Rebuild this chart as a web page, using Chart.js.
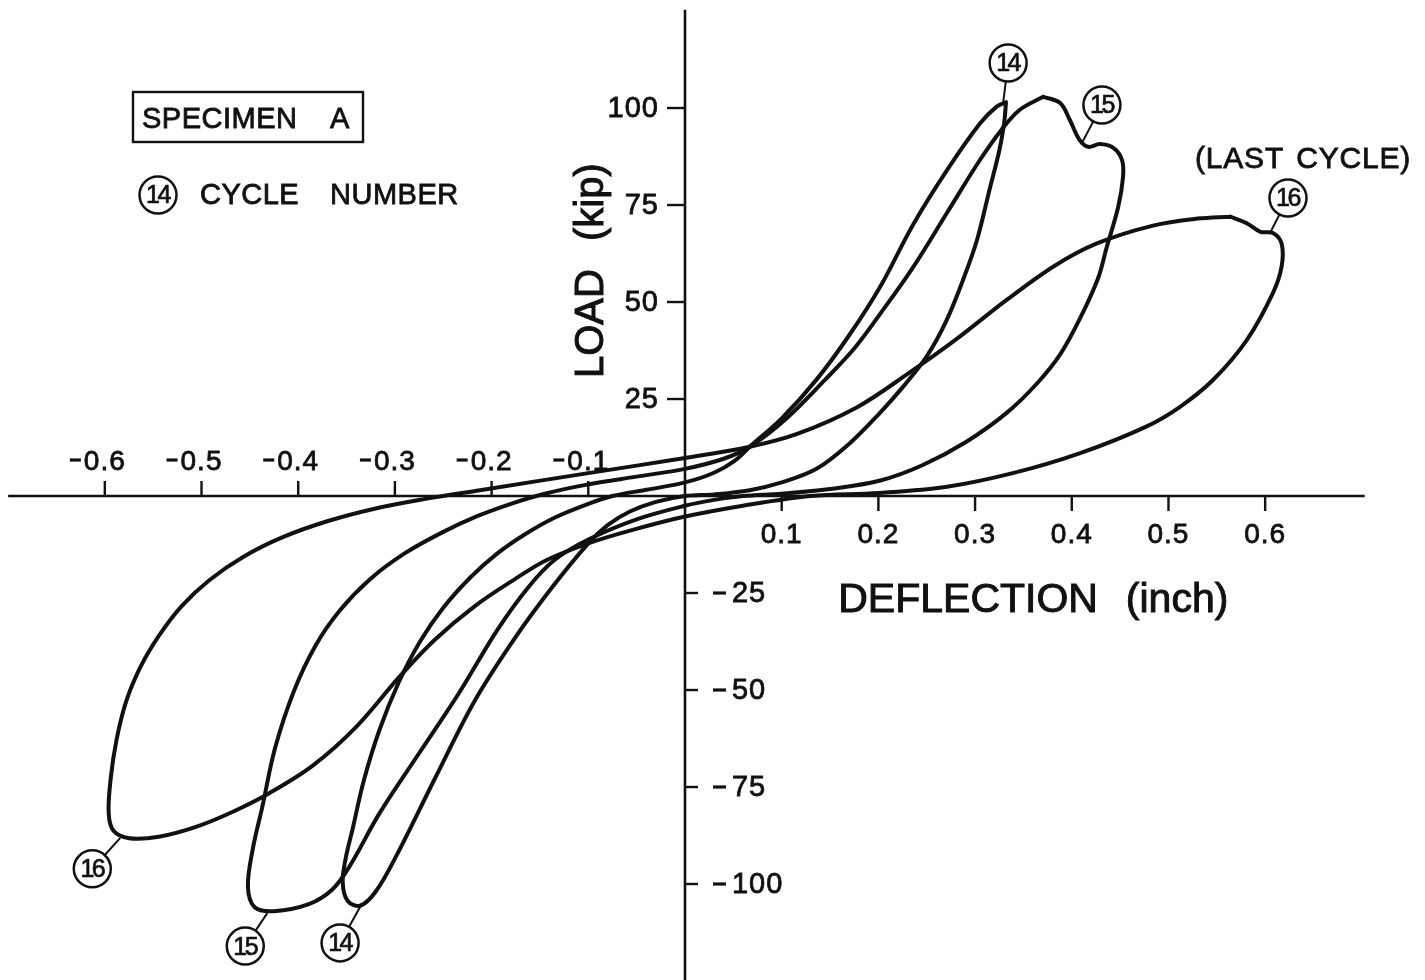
<!DOCTYPE html>
<html>
<head>
<meta charset="utf-8">
<script src="https://cdn.jsdelivr.net/npm/chart.js@4.4.1/dist/chart.umd.min.js"></script>
<style>
  html, body { margin: 0; padding: 0; background: #ffffff; }
  #wrap { width: 1425px; height: 980px; position: relative; }
  canvas { display: block; }
</style>
</head>
<body>
<div id="wrap"><canvas id="chart" width="1425" height="980"></canvas></div>
<script>
// Load–deflection hysteresis loops, specimen A, cycles 14–16.
// Each loop: [deflection (inch), load (kip)], traced from the positive peak around the loop.
const cycle14 = [
  [0.332, 101.5], [0.330, 96], [0.325, 89], [0.315, 79], [0.302, 66], [0.288, 56],
  [0.270, 45], [0.250, 36], [0.225, 28], [0.200, 21], [0.170, 13.5], [0.136, 7],
  [0.100, 3.5], [0.067, 1.5], [0.030, 0.4], [0.000, 0],
  [-0.030, -1.5], [-0.057, -4], [-0.080, -7.5], [-0.100, -12.2], [-0.137, -23.4],
  [-0.177, -37], [-0.218, -53], [-0.259, -73], [-0.298, -92.5], [-0.320, -102],
  [-0.336, -105.6], [-0.349, -104.3], [-0.354, -99.5],
  [-0.351, -93.5], [-0.344, -86.1], [-0.332, -73.2], [-0.316, -60.3], [-0.296, -48],
  [-0.274, -37.5], [-0.250, -28.8], [-0.222, -21], [-0.194, -14.8], [-0.165, -9.8],
  [-0.135, -5.6], [-0.102, -2.2], [-0.075, 0], [-0.040, 1.6], [0.000, 3.5], [0.030, 6],
  [0.052, 9.2], [0.067, 12.7],
  [0.100, 20], [0.136, 30], [0.170, 41.5], [0.202, 54], [0.236, 70], [0.271, 84],
  [0.305, 96], [0.322, 100.3], [0.332, 101.5]
];

const cycle15 = [
  [0.3705, 102.9], [0.388, 101.3], [0.398, 96.9], [0.408, 91.8], [0.417, 90], [0.429, 90.7],
  [0.443, 89.7], [0.452, 86.6], [0.453, 82.2], [0.448, 74.5], [0.436, 64], [0.427, 56],
  [0.408, 45.5], [0.388, 36.5], [0.364, 29], [0.333, 21.5], [0.291, 14], [0.246, 8],
  [0.202, 4], [0.150, 1.8], [0.100, 0.6], [0.060, 0], [0.030, -1], [0.000, -2.5],
  [-0.050, -6], [-0.100, -11.2], [-0.135, -16.5], [-0.162, -23.5], [-0.194, -34.5],
  [-0.234, -50.9], [-0.275, -66.3], [-0.316, -81.8], [-0.347, -95.5], [-0.365, -101.5],
  [-0.389, -105.2], [-0.425, -107], [-0.445, -106], [-0.452, -100.7],
  [-0.447, -91], [-0.437, -80], [-0.424, -65], [-0.404, -50], [-0.382, -38.5],
  [-0.357, -29.5], [-0.326, -21.5], [-0.290, -14.8], [-0.252, -9.5], [-0.215, -5.2],
  [-0.180, -2], [-0.145, 0.6], [-0.100, 3], [-0.050, 5], [0.000, 7], [0.040, 9.6],
  [0.067, 12.7],
  [0.105, 20], [0.145, 30], [0.175, 38], [0.202, 47], [0.236, 59], [0.271, 73],
  [0.305, 86.6], [0.327, 94.3], [0.346, 99.5], [0.3705, 102.9]
];

const cycle16 = [
  [0.564, 72], [0.581, 70.3], [0.595, 68.1], [0.608, 67.8], [0.617, 65.1], [0.617, 59.1],
  [0.608, 52.3], [0.581, 40.2], [0.546, 29.9], [0.512, 23], [0.477, 17.9], [0.408, 11],
  [0.339, 5.9], [0.271, 2.4], [0.200, 0.8], [0.130, 0], [0.060, -2.5], [0.000, -5.3],
  [-0.055, -8.8], [-0.100, -12.2], [-0.143, -16.5], [-0.177, -21.6], [-0.218, -28.5],
  [-0.259, -37.1], [-0.295, -46.5], [-0.340, -59.5], [-0.385, -69.5], [-0.430, -76.6],
  [-0.467, -81.3], [-0.505, -85.2], [-0.544, -87.8], [-0.575, -88.2], [-0.591, -86.3],
  [-0.596, -81.8], [-0.594, -73], [-0.588, -63], [-0.578, -53], [-0.563, -44],
  [-0.544, -36], [-0.521, -28.5], [-0.492, -21.7], [-0.457, -15.7], [-0.416, -10.6],
  [-0.370, -6.5], [-0.320, -3.2], [-0.270, -0.8], [-0.212, 1.5], [-0.100, 5.9],
  [0.000, 9.8], [0.067, 12.7],
  [0.116, 16], [0.178, 22.9], [0.231, 31.6], [0.280, 40.3], [0.333, 50.6], [0.382, 59.3],
  [0.426, 65.1], [0.484, 69.7], [0.530, 71.5], [0.564, 72]
];

// Axis ticks and labels
const xTicks = [-0.6, -0.5, -0.4, -0.3, -0.2, -0.1, 0.1, 0.2, 0.3, 0.4, 0.5, 0.6];
const xTickLabels = ['-0.6', '-0.5', '-0.4', '-0.3', '-0.2', '-0.1', '0.1', '0.2', '0.3', '0.4', '0.5', '0.6'];
const yTicks = [-100, -75, -50, -25, 25, 50, 75, 100];
const yTickLabels = ['-100', '-75', '-50', '-25', '25', '50', '75', '100'];

// Cycle number callouts: which cycle, and the point on its loop the leader touches
const cycleNames = ['14', '15', '16', '16', '15', '14'];
const calloutPoints = [
  [0.329, 101.3], [0.4105, 91], [0.605, 67.8],
  [-0.584, -88.1], [-0.432, -107.5], [-0.336, -105.9]
];

const INK = '#111111';
const FONT = '"Liberation Sans", Arial, Helvetica, sans-serif';

// filled text with a thin outline, for the heavy printed look
function inkText(ctx, text, x, y, weight) {
  ctx.fillText(text, x, y);
  ctx.lineWidth = weight || 0.8;
  ctx.strokeText(text, x, y);
}

// a short heavy minus sign drawn as a bar
function minusBar(ctx, x, y, w) {
  ctx.fillRect(x, y - 1.6, w, 3.2);
}

function circledNumber(ctx, cx, cy, text) {
  ctx.save();
  ctx.lineWidth = 2.5;
  ctx.beginPath();
  ctx.arc(cx, cy, 18.5, 0, Math.PI * 2);
  ctx.fillStyle = '#ffffff';
  ctx.fill();
  ctx.strokeStyle = INK;
  ctx.stroke();
  ctx.fillStyle = INK;
  ctx.font = '25px ' + FONT;
  ctx.letterSpacing = '-2.5px';
  ctx.textAlign = 'center';
  ctx.textBaseline = 'middle';
  inkText(ctx, text, cx - 0.5, cy + 1.5, 0.7);
  ctx.restore();
}

const decorPlugin = {
  id: 'decor',
  afterDatasetsDraw(chart) {
    const ctx = chart.ctx;
    const xs = chart.scales.x, ys = chart.scales.y;
    const X = v => xs.getPixelForValue(v);
    const Y = v => ys.getPixelForValue(v);
    const x0 = X(0), y0 = Y(0);

    ctx.save();
    ctx.strokeStyle = INK;
    ctx.fillStyle = INK;
    ctx.lineCap = 'butt';

    // axes through the origin
    ctx.lineWidth = 2.6;
    ctx.beginPath();
    ctx.moveTo(X(-0.700), y0);
    ctx.lineTo(X(0.703), y0);
    ctx.moveTo(x0, Y(125.3));
    ctx.lineTo(x0, Y(-125));
    ctx.stroke();

    // x ticks: up on the negative side, down on the positive side
    ctx.font = '28px ' + FONT;
    ctx.letterSpacing = '1px';
    ctx.textBaseline = 'alphabetic';
    xTicks.forEach((v, i) => {
      const px = X(v);
      ctx.lineWidth = 2.4;
      ctx.beginPath();
      if (v < 0) { ctx.moveTo(px, y0); ctx.lineTo(px, y0 - 15); }
      else { ctx.moveTo(px, y0); ctx.lineTo(px, y0 + 15); }
      ctx.stroke();
      const lab = xTickLabels[i];
      if (v < 0) {
        const body = lab.slice(1);
        const w = ctx.measureText(body).width;
        ctx.textAlign = 'left';
        inkText(ctx, body, px - w / 2, y0 - 26);
        minusBar(ctx, px - w / 2 - 14, y0 - 36, 11);
      } else {
        ctx.textAlign = 'center';
        inkText(ctx, lab, px, y0 + 47);
      }
    });

    // y ticks: left on the positive side, right on the negative side
    ctx.textBaseline = 'middle';
    yTicks.forEach((v, i) => {
      const py = Y(v);
      ctx.lineWidth = 2.4;
      ctx.beginPath();
      if (v > 0) { ctx.moveTo(x0, py); ctx.lineTo(x0 - 18, py); }
      else { ctx.moveTo(x0, py); ctx.lineTo(x0 + 13, py); }
      ctx.stroke();
      ctx.font = '29px ' + FONT;
      ctx.letterSpacing = '1px';
      if (v > 0) {
        ctx.textAlign = 'right';
        inkText(ctx, yTickLabels[i], x0 - 26, py + 1);
      } else {
        ctx.textAlign = 'left';
        minusBar(ctx, x0 + 28, py, 13);
        inkText(ctx, yTickLabels[i].slice(1), x0 + 47, py + 1);
      }
    });

    // axis titles
    ctx.textBaseline = 'alphabetic';
    ctx.textAlign = 'left';
    ctx.letterSpacing = '0px';
    ctx.font = '41px ' + FONT;
    inkText(ctx, 'DEFLECTION', X(0.1585), Y(-29.9), 1);
    inkText(ctx, '(inch)', X(0.4559), Y(-29.9), 1);

    ctx.save();
    ctx.translate(X(-0.0848), Y(30.4));
    ctx.rotate(-Math.PI / 2);
    ctx.font = '40px ' + FONT;
    inkText(ctx, 'LOAD', 0, 0, 1);
    inkText(ctx, '(kip)', 137, 0, 1);
    ctx.restore();

    // specimen box and legend
    ctx.font = '29px ' + FONT;
    ctx.letterSpacing = '0.5px';
    ctx.lineWidth = 2.4;
    ctx.strokeRect(133, 92, 230, 50);
    inkText(ctx, 'SPECIMEN', 142, 128);
    inkText(ctx, 'A', 330, 128);
    circledNumber(ctx, 158, 195, '14');
    ctx.fillStyle = INK;
    ctx.strokeStyle = INK;
    ctx.font = '29px ' + FONT;
    ctx.letterSpacing = '0.5px';
    ctx.textAlign = 'left';
    ctx.textBaseline = 'alphabetic';
    inkText(ctx, 'CYCLE', 200, 204);
    inkText(ctx, 'NUMBER', 330, 204);

    ctx.font = '30px ' + FONT;
    ctx.letterSpacing = '0.8px';
    inkText(ctx, '(LAST', 1195, 168);
    ctx.textAlign = 'right';
    inkText(ctx, 'CYCLE)', 1411, 168);
    ctx.textAlign = 'left';
    ctx.letterSpacing = '0px';

    // cycle number callouts with leaders
    const offsets = [[5, -40], [20, -38], [18, -35], [-28, 31], [-22, 33], [-20, 36]];
    calloutPoints.forEach((p, i) => {
      const ax = X(p[0]), ay = Y(p[1]);
      const cx = ax + offsets[i][0], cy = ay + offsets[i][1];
      const d = Math.hypot(cx - ax, cy - ay);
      ctx.lineWidth = 2;
      ctx.beginPath();
      ctx.moveTo(ax, ay);
      ctx.lineTo(cx - (cx - ax) * 18 / d, cy - (cy - ay) * 18 / d);
      ctx.stroke();
      circledNumber(ctx, cx, cy, cycleNames[i]);
    });

    ctx.restore();
  }
};

const toPoints = arr => arr.map(([x, y]) => ({ x, y }));
const loopStyle = {
  showLine: true,
  borderColor: INK,
  borderWidth: 4,
  pointRadius: 0,
  tension: 0.35,
  fill: false,
  borderJoinStyle: 'round',
  borderCapStyle: 'round',
  clip: false
};

new Chart(document.getElementById('chart'), {
  type: 'scatter',
  data: {
    datasets: [
      Object.assign({ label: 'Cycle 14', data: toPoints(cycle14) }, loopStyle),
      Object.assign({ label: 'Cycle 15', data: toPoints(cycle15) }, loopStyle),
      Object.assign({ label: 'Cycle 16', data: toPoints(cycle16) }, loopStyle)
    ]
  },
  options: {
    responsive: false,
    devicePixelRatio: 1,
    animation: false,
    layout: { padding: 0 },
    scales: {
      x: { type: 'linear', min: -0.7084, max: 0.7653, display: false },
      y: { type: 'linear', min: -124.74, max: 127.84, display: false }
    },
    plugins: { legend: { display: false }, tooltip: { enabled: false } }
  },
  plugins: [decorPlugin]
});
</script>
</body>
</html>
